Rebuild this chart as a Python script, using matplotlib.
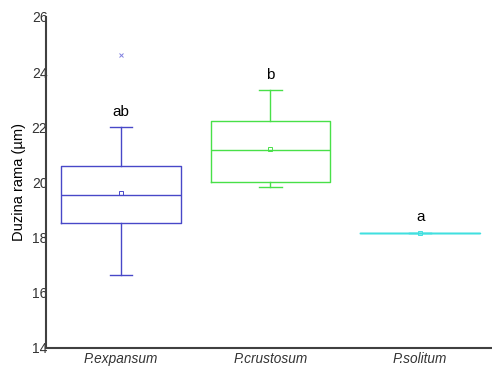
import matplotlib.pyplot as plt

plt.rcParams['font.family'] = ['Liberation Sans', 'DejaVu Sans']

species = ['P.expansum', 'P.crustosum', 'P.solitum']
q1 = [18.54, 20.01, 18.16]
med = [19.55, 21.17, 18.16]
q3 = [20.60, 22.22, 18.16]
whislo = [16.65, 19.85, 18.16]
whishi = [22.00, 23.34, 18.16]
means = [19.63, 21.20, 18.16]
fliers = [[24.62], [], []]
letters = ['ab', 'b', 'a']
letter_y = [22.3, 23.65, 18.5]
colors = ['#4848c8', '#48e048', '#40e0e0']

stats = []
for i in range(len(species)):
    stats.append(dict(label=species[i], q1=q1[i], med=med[i], q3=q3[i],
                      whislo=whislo[i], whishi=whishi[i], mean=means[i],
                      fliers=fliers[i]))

fig = plt.figure(figsize=(4.92, 3.67), dpi=100)
ax = fig.add_axes([0.0935, 0.052, 0.9065, 0.902])

for i, s in enumerate(stats):
    c = colors[i]
    ax.bxp([s], positions=[i + 1], widths=0.8, capwidths=0.15, showmeans=True,
           boxprops=dict(color=c, lw=1),
           medianprops=dict(color=c, lw=1),
           whiskerprops=dict(color=c, lw=1),
           capprops=dict(color=c, lw=1),
           meanprops=dict(marker='s', markersize=3.5, markerfacecolor='none',
                          markeredgecolor=c, markeredgewidth=0.7),
           flierprops=dict(marker='x', markersize=3.5, markeredgecolor='#8080e0',
                           markeredgewidth=0.7))
    ax.text(i + 1, letter_y[i], letters[i], ha='center', va='bottom', fontsize=11)

ax.set_xlim(0.5, 3.48)
ax.set_ylim(14, 26)
ax.set_yticks([14, 16, 18, 20, 22, 24, 26])
ax.set_xticks([1, 2, 3])
ax.set_xticklabels(species, fontstyle='italic', fontsize=9.8)
ax.tick_params(axis='y', length=0, pad=-1, labelsize=10, labelcolor='#333333')
ax.tick_params(axis='x', length=0, pad=3, labelcolor='#333333')
ax.set_ylabel('Duzina rama (µm)', fontsize=10.5, labelpad=4)

for side in ['top', 'right']:
    ax.spines[side].set_visible(False)
for side in ['left', 'bottom']:
    ax.spines[side].set_color('#404040')
    ax.spines[side].set_linewidth(1.5)

fig.savefig('out.png', dpi=100)
